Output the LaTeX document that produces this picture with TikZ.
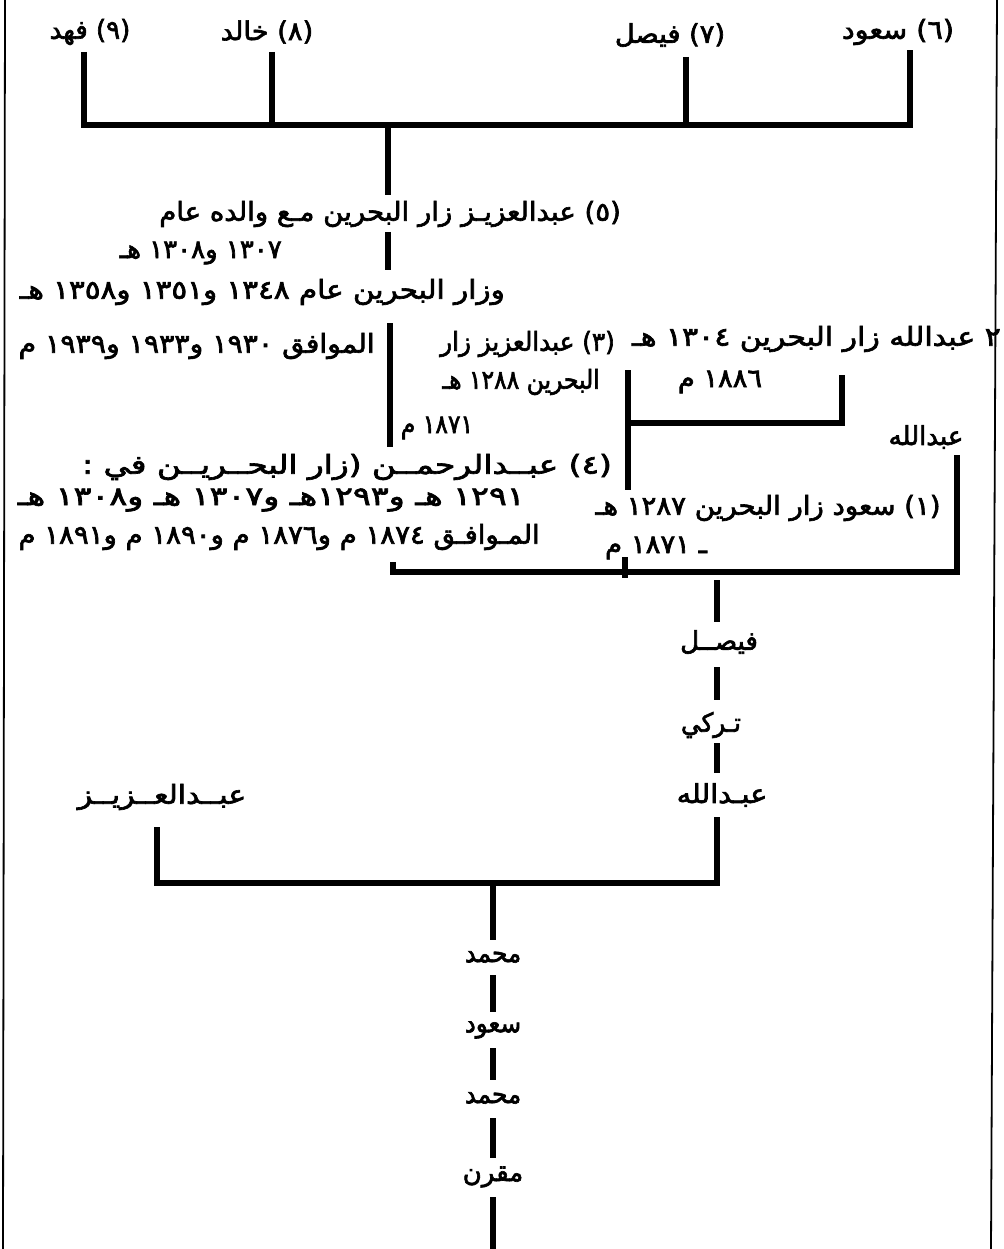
\documentclass[tikz,border=0pt]{standalone}
\usepackage{fontspec}
\usepackage{graphicx}
\TeXXeTstate=1
\newfontfamily\arabicfont[Script=Arabic,FakeBold=2.5]{DejaVu Sans}
\newcommand\artxt[2][1]{\scalebox{#1}[1]{\beginR #2\endR}}
\tikzset{
  tree/.style={line width=5.5pt, line join=miter},
  framel/.style={line width=1.8pt},
  lbl/.style={inner sep=0pt, font=\arabicfont\fontsize{26}{30}\selectfont},
}
\begin{document}
\begin{tikzpicture}[x=1pt,y=-1pt]
\useasboundingbox (0,0) rectangle (1003,1249);
% frame
\draw[framel] (5,0) -- (3,1249);
\draw[framel] (997,0) -- (991,1249);

% top generation
\node[lbl] (n9) at (90,32) {\artxt{(٩) فهد}};
\node[lbl] (n8) at (267,32) {\artxt[1.05]{(٨) خالد}};
\node[lbl] (n7) at (670,35) {\artxt[1.05]{(٧) فيصل}};
\node[lbl] (n6) at (898,32) {\artxt[1.1]{(٦) سعود}};
\coordinate (a9) at (84,52);  \coordinate (b9) at (84,125);
\coordinate (a8) at (272,52); \coordinate (b8) at (272,125);
\coordinate (a7) at (686,57); \coordinate (b7) at (686,125);
\coordinate (a6) at (910,50); \coordinate (b6) at (910,125);
\coordinate (b5) at (388,125); \coordinate (c5) at (388,195);
\draw[tree] (a9) -- (b9) -- (b6) -- (a6);
\draw[tree] (a8) -- (b8);
\draw[tree] (a7) -- (b7);
\draw[tree] (b5) -- (c5);

% Abdulaziz (5)
\node[lbl] (t5a) at (390,214) {\artxt[1.06]{(٥) عبدالعزيـز زار البحرين مـع والده عام}};
\node[lbl,anchor=east] (t5b) at (282,253) {\artxt{١٣٠٧ و١٣٠٨ هـ}};
\node[lbl,anchor=east] (t5c) at (505,292) {\artxt[1.13]{وزار البحرين عام ١٣٤٨ و١٣٥١ و١٣٥٨ هـ}};
\node[lbl,anchor=east] (t5d) at (375,346) {\artxt[1.09]{الموافق ١٩٣٠ و١٩٣٣ و١٩٣٩ م}};
\coordinate (d5) at (388,232); \coordinate (e5) at (388,270);
\coordinate (f5) at (390,323); \coordinate (g5) at (390,447);
\draw[tree] (d5) -- (e5);
\draw[tree] (f5) -- (g5);

% Abdulaziz (3)
\node[lbl,anchor=east] (t3a) at (615,344) {\artxt[0.95]{(٣) عبدالعزيز زار}};
\node[lbl,anchor=east] (t3b) at (600,382) {\artxt[0.9]{البحرين ١٢٨٨ هـ}};
\node[lbl] (t3c) at (437,428) {\artxt[0.9]{١٨٧١ م}};

% Abdullah (2)
\node[lbl,anchor=east] (t2a) at (1001,339) {\artxt[1.15]{٢ عبدالله زار البحرين ١٣٠٤ هـ}};
\node[lbl] (t2b) at (720,382) {\artxt[1.05]{١٨٨٦ م}};
\coordinate (p3) at (628,370); \coordinate (q3) at (628,423);
\coordinate (r3) at (628,490);
\coordinate (p2) at (842,375); \coordinate (q2) at (842,423);
\draw[tree] (p3) -- (r3);
\draw[tree] (q3) -- (q2) -- (p2);

\node[lbl] (abd1) at (926,437) {\artxt{عبدالله}};

% Abdulrahman (4)
\node[lbl,anchor=east] (t4a) at (612,467) {\artxt[1.26]{(٤) عبــدالرحمــن (زار البحــريــن في :}};
\node[lbl,anchor=east] (t4b) at (525,500) {\artxt[1.28]{١٢٩١ هـ و١٢٩٣هـ و١٣٠٧ هـ و١٣٠٨ هـ}};
\node[lbl,anchor=east] (t4c) at (540,537) {\artxt[1.06]{المـوافـق ١٨٧٤ م و١٨٧٦ م و١٨٩٠ م و١٨٩١ م}};

% Saud (1)
\node[lbl] (t1a) at (768,508) {\artxt[1.06]{(١) سعود زار البحرين ١٢٨٧ هـ}};
\node[lbl] (t1b) at (656,548) {\artxt[1.06]{ـ ١٨٧١ م}};

\coordinate (u4) at (393,562); \coordinate (v4) at (393,572);
\coordinate (w1) at (957,572); \coordinate (x1) at (957,455);
\coordinate (k1) at (625,557); \coordinate (k2) at (625,578);
\draw[tree] (u4) -- (v4) -- (w1) -- (x1);
\draw[tree] (k1) -- (k2);

% Faisal chain
\node[lbl] (fs) at (719,642) {\artxt{فيصــل}};
\node[lbl] (tk) at (711,725) {\artxt[0.95]{تـركي}};
\node[lbl] (ab2) at (722,795) {\artxt[1.1]{عبـدالله}};
\node[lbl] (az) at (162,797) {\artxt[1.15]{عبــدالعــزيــز}};
\coordinate (m0) at (717,580); \coordinate (m1) at (717,622);
\coordinate (m2) at (717,667); \coordinate (m3) at (717,700);
\coordinate (m4) at (717,743); \coordinate (m5) at (717,773);
\coordinate (m6) at (717,817); \coordinate (m7) at (717,883);
\coordinate (l7) at (157,883); \coordinate (l6) at (157,827);
\draw[tree] (m0) -- (m1);
\draw[tree] (m2) -- (m3);
\draw[tree] (m4) -- (m5);
\draw[tree] (m6) -- (m7) -- (l7) -- (l6);

% bottom chain
\node[lbl] (mh1) at (493,957) {\artxt[0.95]{محمد}};
\node[lbl] (sd) at (493,1030) {\artxt[0.95]{سعود}};
\node[lbl] (mh2) at (493,1098) {\artxt[0.95]{محمد}};
\node[lbl] (mq) at (493,1177) {\artxt{مقرن}};
\coordinate (s0) at (493,883); \coordinate (s1) at (493,940);
\coordinate (s2) at (493,975); \coordinate (s3) at (493,1012);
\coordinate (s4) at (493,1048); \coordinate (s5) at (493,1080);
\coordinate (s6) at (493,1118); \coordinate (s7) at (493,1158);
\coordinate (s8) at (493,1197); \coordinate (s9) at (493,1249);
\draw[tree] (s0) -- (s1);
\draw[tree] (s2) -- (s3);
\draw[tree] (s4) -- (s5);
\draw[tree] (s6) -- (s7);
\draw[tree] (s8) -- (s9);
\end{tikzpicture}
\end{document}
